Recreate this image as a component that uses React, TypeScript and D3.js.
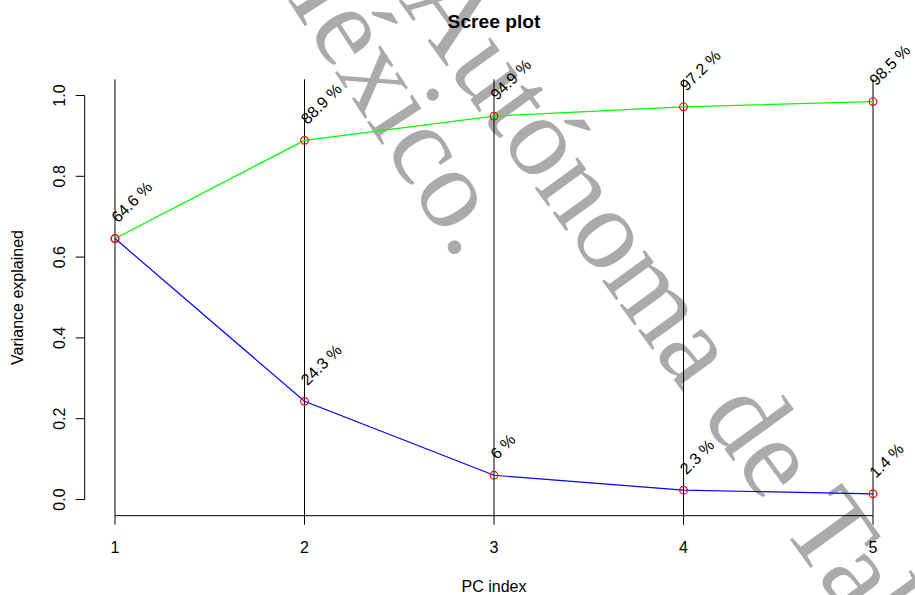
import React from "react";
import * as d3 from "d3";

const pcIndex = [1, 2, 3, 4, 5];
const individual = [0.646, 0.243, 0.06, 0.023, 0.014];
const cumulative = [0.646, 0.889, 0.949, 0.972, 0.985];
const individualLabels = ["64.6 %", "24.3 %", "6 %", "2.3 %", "1.4 %"];
const cumulativeLabels = ["64.6 %", "88.9 %", "94.9 %", "97.2 %", "98.5 %"];
const yTicks = [0, 0.2, 0.4, 0.6, 0.8, 1.0];
const xTicks = [1, 2, 3, 4, 5];

const W = 915;
const H = 595;
const FONT = "'Liberation Sans', Arial, Helvetica, sans-serif";

export default function App() {
  const x = d3.scaleLinear().domain([1, 5]).range([115, 873]);
  const y = d3.scaleLinear().domain([0, 1]).range([499.5, 95.5]);
  const plotTop = y(1.04);
  const plotBottom = y(-0.04);
  const axisX = x(0.84);

  const line = d3
    .line<number>()
    .x((_, i) => x(pcIndex[i]))
    .y((d) => y(d));

  const label = (v: number, i: number, t: string, key: string) => {
    const ax = x(pcIndex[i]) + 3;
    const ay = y(v) - 15;
    return (
      <text
        key={key}
        transform={`translate(${ax},${ay}) rotate(-45)`}
        fontSize={16}
        fill="#000"
        textAnchor="start"
      >
        {t}
      </text>
    );
  };

  return (
    <svg
      width={W}
      height={H}
      style={{ position: "absolute", left: 0, top: 0, background: "#fff" }}
      fontFamily={FONT}
    >
      <rect width={W} height={H} fill="#fff" />
      {/* watermark */}
      <g fill="#aaaaaa" fontFamily="'Liberation Serif', 'Times New Roman', serif" fontSize={115}>
        <text transform="translate(398,0) rotate(54)" textAnchor="start">
          Autónoma de Tabasco.
        </text>
        <text transform="translate(458,262) rotate(57)" textAnchor="end">
          México.
        </text>
      </g>

      {/* vertical reference lines */}
      {pcIndex.map((p) => (
        <line
          key={`v${p}`}
          x1={x(p)}
          x2={x(p)}
          y1={plotTop}
          y2={plotBottom}
          stroke="#000"
          strokeWidth={1}
        />
      ))}

      {/* y axis */}
      <line x1={axisX} x2={axisX} y1={y(0)} y2={y(1)} stroke="#000" />
      {yTicks.map((t) => (
        <g key={`yt${t}`}>
          <line x1={axisX - 9} x2={axisX} y1={y(t)} y2={y(t)} stroke="#000" />
          <text
            transform={`translate(65,${y(t)}) rotate(-90)`}
            textAnchor="middle"
            fontSize={16}
          >
            {t.toFixed(1)}
          </text>
        </g>
      ))}

      {/* x axis */}
      <line x1={x(1)} x2={x(5)} y1={plotBottom} y2={plotBottom} stroke="#000" />
      {xTicks.map((t) => (
        <g key={`xt${t}`}>
          <line x1={x(t)} x2={x(t)} y1={plotBottom} y2={plotBottom + 9} stroke="#000" />
          <text x={x(t)} y={553} textAnchor="middle" fontSize={16}>
            {t}
          </text>
        </g>
      ))}

      {/* lines */}
      <path d={line(cumulative) || ""} fill="none" stroke="#00ff00" strokeWidth={1.2} />
      <path d={line(individual) || ""} fill="none" stroke="#0000ff" strokeWidth={1.2} />

      {/* points */}
      {cumulative.map((v, i) => (
        <circle key={`c${i}`} cx={x(pcIndex[i])} cy={y(v)} r={3.8} fill="none" stroke="#ff0000" strokeWidth={1.2} />
      ))}
      {individual.map((v, i) => (
        <circle key={`p${i}`} cx={x(pcIndex[i])} cy={y(v)} r={3.8} fill="none" stroke="#ff0000" strokeWidth={1.2} />
      ))}

      {/* labels */}
      {individual.map((v, i) => label(v, i, individualLabels[i], `il${i}`))}
      {cumulative.map((v, i) => (i === 0 ? null : label(v, i, cumulativeLabels[i], `cl${i}`)))}

      {/* titles */}
      <text x={494} y={28} textAnchor="middle" fontSize={19.2} fontWeight="bold">
        Scree plot
      </text>
      <text x={494} y={592} textAnchor="middle" fontSize={16}>
        PC index
      </text>
      <text transform={`translate(23,${(y(0) + y(1)) / 2}) rotate(-90)`} textAnchor="middle" fontSize={16}>
        Variance explained
      </text>
    </svg>
  );
}
